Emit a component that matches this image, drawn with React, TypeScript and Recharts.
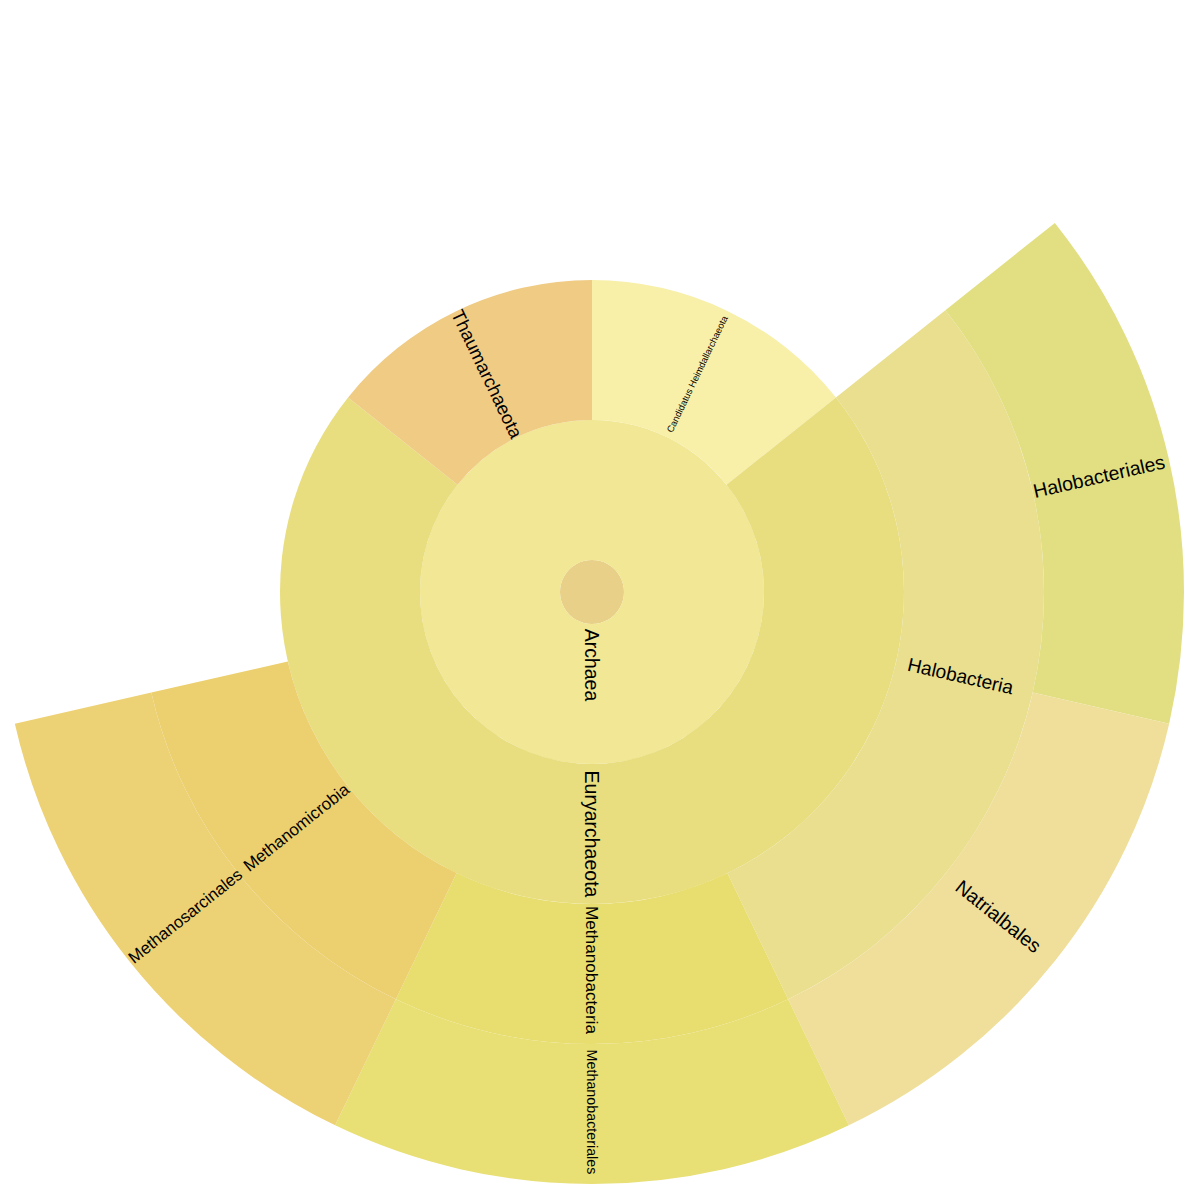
import React from "react";
import { PieChart, Pie, Cell } from "recharts";

// taxonomy counts
const rootName = "Archaea";
const phyla = ["Candidatus Heimdallarchaeota", "Euryarchaeota", "Thaumarchaeota"];
const phylumCounts = [1, 5, 1];
const classes = ["Halobacteria", "Methanobacteria", "Methanomicrobia"];
const classParents = ["Euryarchaeota", "Euryarchaeota", "Euryarchaeota"];
const classCounts = [2, 1, 1];
const orders = ["Halobacteriales", "Natrialbales", "Methanobacteriales", "Methanosarcinales"];
const orderParents = ["Halobacteria", "Halobacteria", "Methanobacteria", "Methanomicrobia"];
const orderCounts = [1, 1, 1, 1];

const colors: Record<string, string> = {
  "": "#e8d088",
  Archaea: "#f1e794",
  "Candidatus Heimdallarchaeota": "#f8efa9",
  Euryarchaeota: "#e8de80",
  Thaumarchaeota: "#efcb84",
  Halobacteria: "#e9df8f",
  Methanobacteria: "#e8dd6f",
  Methanomicrobia: "#eccf6e",
  Halobacteriales: "#e2df83",
  Natrialbales: "#efdf9a",
  Methanobacteriales: "#e8df75",
  Methanosarcinales: "#edd175",
};

const fontSizes: Record<string, number> = {
  Archaea: 19.5,
  "Candidatus Heimdallarchaeota": 9.4,
  Thaumarchaeota: 18.5,
  Euryarchaeota: 19.5,
  Halobacteria: 19.2,
  Methanobacteria: 17.2,
  Methanomicrobia: 16.9,
  Halobacteriales: 19.5,
  Natrialbales: 19.5,
  Methanobacteriales: 14.3,
  Methanosarcinales: 16.7,
};

const SIZE = 1184;
const CX = 592;
const CY = 592;

type Slice = { name: string; value: number; gap: boolean };

function childRing(parentRing: Slice[], names: string[], parents: string[], counts: number[]): Slice[] {
  const out: Slice[] = [];
  parentRing.forEach((p) => {
    let used = 0;
    if (!p.gap) {
      names.forEach((n, i) => {
        if (parents[i] === p.name) {
          out.push({ name: n, value: counts[i], gap: false });
          used += counts[i];
        }
      });
    }
    if (p.value - used > 0) out.push({ name: "", value: p.value - used, gap: true });
  });
  return out;
}

const total = phylumCounts.reduce((a, b) => a + b, 0);
const centerRing: Slice[] = [{ name: "", value: total, gap: false }];
const rootRing: Slice[] = [{ name: rootName, value: total, gap: false }];
const phylumRing = childRing(rootRing, phyla, phyla.map(() => rootName), phylumCounts);
const classRing = childRing(phylumRing, classes, classParents, classCounts);
const orderRing = childRing(classRing, orders, orderParents, orderCounts);

const rings = [
  { key: "center", data: centerRing, inner: 0, outer: 32, labelR: 0 },
  { key: "root", data: rootRing, inner: 32, outer: 172, labelR: 73 },
  { key: "phylum", data: phylumRing, inner: 172, outer: 312, labelR: 242 },
  { key: "class", data: classRing, inner: 312, outer: 452, labelR: 378 },
  { key: "order", data: orderRing, inner: 452, outer: 592, labelR: 520 },
];

const makeLabel = (labelR: number) => (props: any) => {
  const name: string = props.payload?.name ?? props.name ?? "";
  const gap = props.payload?.gap ?? props.gap;
  if (!name || gap || labelR === 0) return <g />;
  const mid: number = props.midAngle;
  const rad = (mid * Math.PI) / 180;
  const x = CX + labelR * Math.cos(rad);
  const y = CY - labelR * Math.sin(rad);
  let rot = -mid;
  while (rot > 90) rot -= 180;
  while (rot <= -90) rot += 180;
  return (
    <text
      x={x}
      y={y}
      transform={`rotate(${rot} ${x} ${y})`}
      textAnchor="middle"
      dominantBaseline="central"
      fontFamily="'Liberation Sans', Arial, Helvetica, sans-serif"
      fontSize={fontSizes[name] ?? 19.5}
      fill="#000"
    >
      {name}
    </text>
  );
};

export default function App() {
  return (
    <div style={{ position: "absolute", left: 0, top: 0, width: SIZE, height: SIZE, background: "#fff" }}>
      <PieChart width={SIZE} height={SIZE} margin={{ top: 0, right: 0, bottom: 0, left: 0 }}>
        {rings.map((ring) => (
          <Pie
            key={ring.key}
            data={ring.data}
            dataKey="value"
            nameKey="name"
            cx={CX}
            cy={CY}
            innerRadius={ring.inner}
            outerRadius={ring.outer}
            startAngle={90}
            endAngle={-270}
            paddingAngle={0}
            stroke="none"
            isAnimationActive={false}
            labelLine={false}
            label={makeLabel(ring.labelR)}
          >
            {ring.data.map((d, i) => (
              <Cell key={i} fill={d.gap ? "none" : colors[d.name]} stroke="none" />
            ))}
          </Pie>
        ))}
      </PieChart>
    </div>
  );
}
